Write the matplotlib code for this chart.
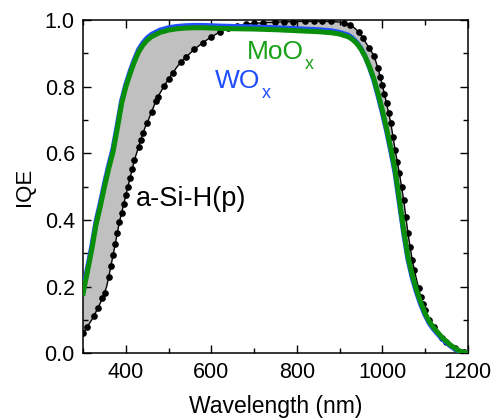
import matplotlib
matplotlib.use("Agg")
import matplotlib.pyplot as plt
import numpy as np
from matplotlib.ticker import MultipleLocator, FormatStrFormatter

plt.rcParams['font.family'] = ['Liberation Sans', 'DejaVu Sans']

# a-Si-H(p) reference series (dense readings, dots on curve)
wl_asi = ([300 + 5 * i for i in range(41)] + [510 + 10 * i for i in range(42)]
          + [925 + 5 * i for i in range(40)] + [1130 + 10 * i for i in range(8)])
iqe_asi = [0.060, 0.070, 0.080, 0.090, 0.100, 0.112, 0.124, 0.137, 0.150, 0.165, 0.182, 0.200,
           0.230, 0.262, 0.294, 0.328, 0.362, 0.395, 0.422, 0.448, 0.474, 0.500, 0.527, 0.554,
           0.580, 0.600, 0.620, 0.641, 0.660, 0.678, 0.692, 0.708, 0.724, 0.740, 0.756, 0.769,
           0.781, 0.792, 0.803, 0.813, 0.823,
           0.842, 0.860, 0.875, 0.888, 0.900, 0.912, 0.922, 0.932, 0.941, 0.949, 0.957, 0.964,
           0.970, 0.975, 0.979, 0.982, 0.985, 0.987, 0.989, 0.990, 0.991, 0.992, 0.993, 0.993,
           0.994, 0.994, 0.995, 0.995, 0.995, 0.996, 0.996, 0.996, 0.996, 0.996, 0.996, 0.996,
           0.996, 0.996, 0.995, 0.994, 0.992, 0.988,
           0.985, 0.981, 0.976, 0.970, 0.963, 0.955, 0.945, 0.935, 0.925, 0.915, 0.905, 0.893,
           0.875, 0.855, 0.830, 0.805, 0.778, 0.750, 0.720, 0.690, 0.650, 0.610, 0.575, 0.540,
           0.500, 0.460, 0.410, 0.360, 0.320, 0.280, 0.250, 0.222, 0.196, 0.168, 0.148, 0.130,
           0.114, 0.100, 0.088, 0.078,
           0.062, 0.047, 0.035, 0.024, 0.015, 0.007, 0.003, 0.0]

wavelength = [300, 310, 320, 330, 340, 350, 360, 370, 380, 390, 400, 410, 420, 430, 440, 450, 460,
              480, 500, 520, 540, 560, 580, 600, 620, 650, 700, 750, 800, 850, 880, 900, 920, 930,
              940, 950, 960, 970, 980, 990, 1000, 1010, 1020, 1030, 1040, 1050, 1060, 1070, 1080,
              1090, 1100, 1110, 1120, 1140, 1160, 1180, 1200]

iqe_moox = [0.18, 0.245, 0.31, 0.385, 0.44, 0.50, 0.555, 0.605, 0.675, 0.75, 0.80, 0.84, 0.875,
            0.905, 0.925, 0.94, 0.95, 0.963, 0.97, 0.974, 0.976, 0.977, 0.977, 0.976, 0.975,
            0.974, 0.973, 0.971, 0.968, 0.965, 0.962, 0.958, 0.95, 0.942, 0.93, 0.913, 0.89, 0.86,
            0.825, 0.78, 0.73, 0.675, 0.615, 0.55, 0.46, 0.37, 0.29, 0.235, 0.19, 0.152, 0.12,
            0.095, 0.077, 0.047, 0.024, 0.007, 0.0]

iqe_wox = [0.19, 0.255, 0.32, 0.395, 0.45, 0.51, 0.565, 0.615, 0.685, 0.758, 0.807, 0.847, 0.882,
           0.912, 0.932, 0.947, 0.957, 0.97, 0.977, 0.981, 0.983, 0.984, 0.984, 0.983, 0.982,
           0.981, 0.979, 0.977, 0.974, 0.971, 0.968, 0.963, 0.955, 0.946, 0.933, 0.915, 0.89,
           0.858, 0.82, 0.773, 0.722, 0.667, 0.606, 0.54, 0.45, 0.36, 0.282, 0.227, 0.183, 0.146,
           0.115, 0.09, 0.072, 0.043, 0.021, 0.005, 0.0]

fig = plt.figure(figsize=(4.95, 4.18), dpi=100)
ax = fig.add_axes([0.168, 0.155, 0.777, 0.797])

poly_x = np.concatenate([wl_asi, wavelength[::-1]])
poly_y = np.concatenate([iqe_asi, iqe_moox[::-1]])
ax.fill(poly_x, poly_y, color='#c0c0c0', linewidth=0, zorder=1)
ax.plot(wl_asi, iqe_asi, color='black', lw=1.0, marker='o', markersize=3.8,
        markevery=0.019, zorder=2)
ax.plot(wavelength, iqe_wox, color='#1f4fff', lw=3.6, zorder=3)
ax.plot(wavelength, iqe_moox, color='#0a8f0a', lw=3.6, zorder=4)


def label_with_sub(x, y, main, sub, color, size):
    t = ax.text(x, y, main, color=color, fontsize=size, va='baseline')
    # subscript placed just right of the main text, below its baseline
    ax.annotate(sub, xy=(1, 0), xycoords=t, xytext=(1.0, -3.6), textcoords='offset points',
                color=color, fontsize=size * 0.68, va='baseline', ha='left')
    return t


label_with_sub(683, 0.882, 'MoO', 'x', '#18a018', 19)
label_with_sub(608, 0.795, 'WO', 'x', '#1f4fff', 19)
ax.text(424, 0.441, 'a-Si-H(p)', color='black', fontsize=19.5)

ax.set_xlim(300, 1200)
ax.set_ylim(0, 1.0)
ax.set_xticks([400, 600, 800, 1000, 1200])
ax.xaxis.set_minor_locator(MultipleLocator(100))
ax.yaxis.set_major_locator(MultipleLocator(0.2))
ax.yaxis.set_minor_locator(MultipleLocator(0.1))
ax.yaxis.set_major_formatter(FormatStrFormatter('%.1f'))
ax.tick_params(which='both', direction='in', top=True, right=True, labelsize=15.5, width=1, pad=6)
ax.tick_params(which='major', length=6)
ax.tick_params(which='minor', length=3.5)
for s in ax.spines.values():
    s.set_linewidth(1.1)

ax.set_xlabel('Wavelength (nm)', fontsize=16.5, labelpad=9)
ax.set_ylabel('IQE', fontsize=16, labelpad=7)

fig.savefig('out.png', dpi=100)
